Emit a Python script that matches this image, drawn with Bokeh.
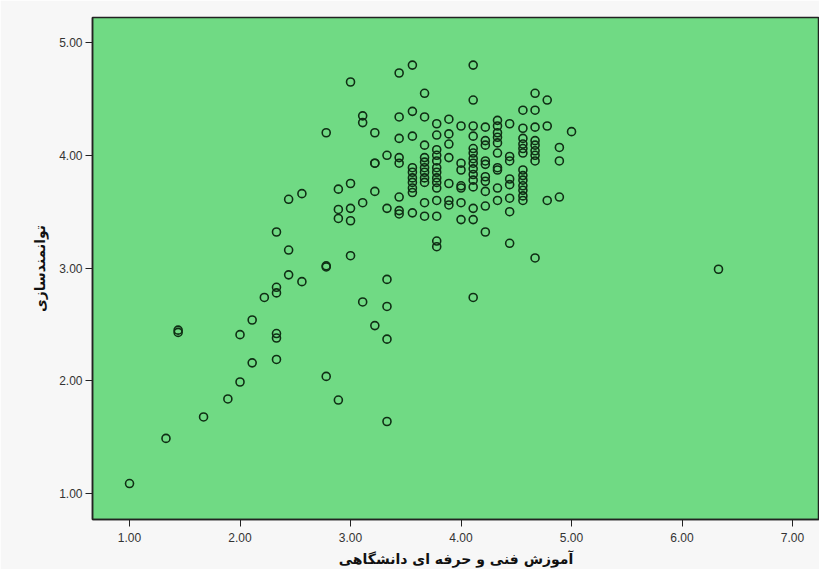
from bokeh.plotting import figure
from bokeh.models import FixedTicker, CustomJSTickFormatter, Range1d
from bokeh.embed import file_html
from bokeh.resources import INLINE

# --- data ---
x_title = "آموزش فنی و حرفه ای دانشگاهی"
y_title = "توانمندسازی"

x_levels = [1.00, 1.33, 1.44, 1.67, 1.89, 2.00, 2.11, 2.22, 2.33, 2.44, 2.56,
            2.78, 2.89, 3.00, 3.11, 3.22, 3.33, 3.44, 3.56, 3.67, 3.78, 3.89,
            4.00, 4.11, 4.22, 4.33, 4.44, 4.56, 4.67, 4.78, 4.89, 5.00, 6.33]

y_groups = [
    [1.09],
    [1.49],
    [2.45, 2.43],
    [1.68],
    [1.84],
    [1.99, 2.41],
    [2.16, 2.54],
    [2.74],
    [2.19, 2.38, 2.42, 2.78, 2.83, 3.32],
    [2.94, 3.16, 3.61],
    [2.88, 3.66],
    [2.04, 3.01, 3.02, 4.20],
    [1.83, 3.44, 3.52, 3.70],
    [3.11, 3.42, 3.53, 3.75, 4.65],
    [2.70, 3.58, 4.29, 4.35],
    [2.49, 3.68, 3.93, 3.93, 4.20],
    [1.64, 2.37, 2.66, 2.90, 3.53, 4.00],
    [4.73, 4.34, 4.15, 3.98, 3.93, 3.63, 3.51, 3.48],
    [4.80, 4.39, 4.17, 3.89, 3.85, 3.80, 3.76, 3.71, 3.67, 3.49],
    [4.55, 4.34, 4.09, 3.98, 3.94, 3.89, 3.85, 3.80, 3.76, 3.58, 3.46],
    [4.28, 4.18, 4.05, 4.00, 3.95, 3.89, 3.85, 3.80, 3.76, 3.71, 3.60, 3.46, 3.24, 3.19],
    [4.32, 4.19, 4.10, 3.98, 3.75, 3.60, 3.56],
    [4.26, 3.93, 3.87, 3.73, 3.71, 3.58, 3.43],
    [4.80, 4.49, 4.26, 4.17, 4.06, 4.02, 3.97, 3.93, 3.88, 3.83, 3.78, 3.72, 3.53, 3.43, 2.74],
    [4.25, 4.13, 4.09, 3.95, 3.92, 3.81, 3.77, 3.68, 3.55, 3.32],
    [4.31, 4.26, 4.20, 4.16, 4.11, 4.02, 3.89, 3.87, 3.71, 3.60],
    [4.28, 3.99, 3.95, 3.79, 3.74, 3.62, 3.50, 3.22],
    [4.40, 4.24, 4.15, 4.10, 4.06, 4.02, 3.87, 3.82, 3.78, 3.73, 3.69, 3.64, 3.60],
    [4.55, 4.40, 4.25, 4.13, 4.09, 4.04, 4.00, 3.95, 3.09],
    [4.49, 4.26, 3.60],
    [4.07, 3.95, 3.63],
    [4.21],
    [2.99],
]

x_ticks = [1, 2, 3, 4, 5, 6, 7]
y_ticks = [1, 2, 3, 4, 5]

xs, ys = [], []
for xv, group in zip(x_levels, y_groups):
    for yv in group:
        xs.append(xv)
        ys.append(yv)

p = figure(width=819, height=569, output_backend="svg", toolbar_location=None,
           x_range=Range1d(0.665, 7.244), y_range=Range1d(0.771, 5.222),
           min_border_left=92, min_border_right=0, min_border_top=17,
           min_border_bottom=50)

p.background_fill_color = "#70DA84"
p.border_fill_color = "#f7f7f7"
p.outline_line_color = "#222222"
p.outline_line_width = 1.5
p.xgrid.visible = False
p.ygrid.visible = False

p.scatter(xs, ys, marker="circle", size=8, fill_color=None,
          line_color="#0f2e14", line_width=1.6)

fmt = CustomJSTickFormatter(code="return tick.toFixed(2);")
for ax, ticks in ((p.xaxis[0], x_ticks), (p.yaxis[0], y_ticks)):
    ax.ticker = FixedTicker(ticks=ticks)
    ax.formatter = fmt
    ax.minor_tick_line_color = None
    ax.major_tick_out = 7
    ax.major_tick_in = 0
    ax.axis_line_color = "#222222"
    ax.axis_line_width = 1.5
    ax.major_tick_line_color = "#222222"
    ax.major_label_text_font = "Liberation Sans"
    ax.major_label_text_font_size = "12px"
    ax.major_label_text_color = "#333333"
    ax.axis_label_text_font = "DejaVu Sans"
    ax.axis_label_text_font_style = "bold"
    ax.axis_label_text_font_size = "14px"
    ax.axis_label_text_color = "#111111"

p.xaxis.axis_label = x_title
p.yaxis.axis_label = y_title
p.xaxis.major_label_standoff = 6
p.xaxis.axis_label_standoff = 6
p.yaxis.major_label_standoff = 3
p.yaxis.axis_label_standoff = 8

open("out.html", "w").write(file_html(p, INLINE))
